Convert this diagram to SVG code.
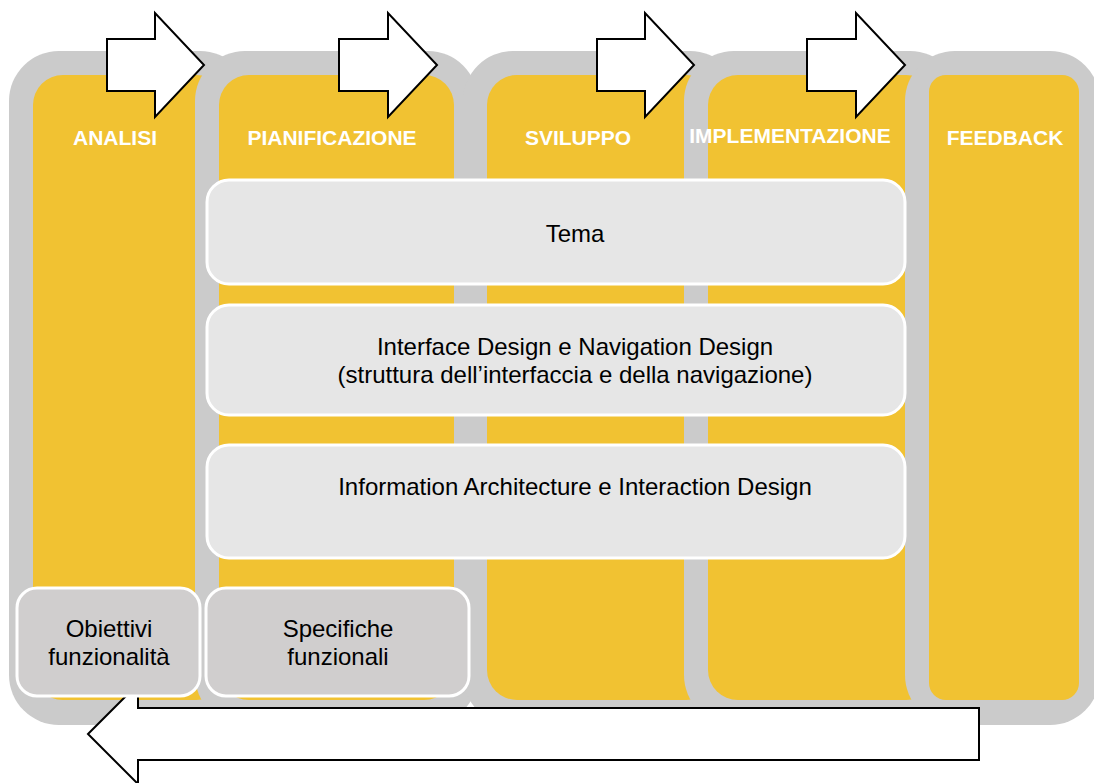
<svg xmlns="http://www.w3.org/2000/svg" width="1094" height="783" viewBox="0 0 1094 783">
  <style>
    .g { fill: #cbcbcb; }
    .y { fill: #f1c232; }
    .hd { font-family: "Liberation Sans", Arial, sans-serif; font-weight: bold; font-size: 21px; fill: #ffffff; text-anchor: middle; }
    .tx { font-family: "Liberation Sans", Arial, sans-serif; font-size: 24px; fill: #000000; text-anchor: middle; }
    .bx1 { fill: #e6e6e6; stroke: #ffffff; stroke-width: 3; }
    .bx2 { fill: #d0cece; stroke: #ffffff; stroke-width: 3; }
    .ar { fill: #ffffff; stroke: #000000; stroke-width: 2; stroke-linejoin: miter; }
  </style>
  <rect width="1094" height="783" fill="#ffffff"/>
  <g id="col-analisi">
    <rect class="g" x="9" y="51" width="241" height="674" rx="50"/>
    <rect class="y" x="33" y="75" width="193" height="625" rx="30"/>
  </g>
  <g id="col-pianificazione">
    <rect class="g" x="195" y="51" width="283" height="674" rx="50"/>
    <rect class="y" x="219" y="75" width="235" height="625" rx="30"/>
  </g>
  <g id="col-sviluppo">
    <rect class="g" x="463" y="51" width="277" height="674" rx="50"/>
    <rect class="y" x="487" y="75" width="229" height="625" rx="30"/>
  </g>
  <g id="col-implementazione">
    <rect class="g" x="684" y="51" width="276" height="674" rx="50"/>
    <rect class="y" x="708" y="75" width="228" height="625" rx="30"/>
  </g>
  <g id="col-feedback">
    <rect class="g" x="905" y="51" width="195" height="674" rx="50"/>
    <rect class="y" x="929" y="75" width="150" height="625" rx="17"/>
  </g>
  <g id="headers">
    <text class="hd" x="115" y="145">ANALISI</text>
    <text class="hd" x="332" y="145">PIANIFICAZIONE</text>
    <text class="hd" x="578" y="145">SVILUPPO</text>
    <text class="hd" x="790" y="143">IMPLEMENTAZIONE</text>
    <text class="hd" x="1005" y="145">FEEDBACK</text>
  </g>
  <g id="connectors">
    <polygon class="ar" points="107,39 155,39 155,13 204,65 155,117 155,91 107,91"/>
    <polygon class="ar" points="339,39 388,39 388,13 437,65 388,117 388,91 339,91"/>
    <polygon class="ar" points="597,39 645,39 645,13 694,65 645,117 645,91 597,91"/>
    <polygon class="ar" points="807,39 856,39 856,13 905,65 856,117 856,91 807,91"/>
    <polygon class="ar" points="88,734 138,684 138,708 979,708 979,760 138,760 138,784"/>
  </g>
  <g id="node-tema">
    <rect class="bx1" x="207" y="180" width="698" height="104" rx="22"/>
    <text class="tx" x="575" y="242">Tema</text>
  </g>
  <g id="node-interface">
    <rect class="bx1" x="207" y="305" width="698" height="110" rx="22"/>
    <text class="tx" x="575" y="355">Interface Design e Navigation Design</text>
    <text class="tx" x="575" y="383">(struttura dell’interfaccia e della navigazione)</text>
  </g>
  <g id="node-information">
    <rect class="bx1" x="207" y="445" width="698" height="113" rx="22"/>
    <text class="tx" x="575" y="495">Information Architecture e Interaction Design</text>
  </g>
  <g id="node-obiettivi">
    <rect class="bx2" x="17" y="588" width="183" height="108" rx="20"/>
    <text class="tx" x="109" y="637">Obiettivi</text>
    <text class="tx" x="109" y="665">funzionalità</text>
  </g>
  <g id="node-specifiche">
    <rect class="bx2" x="206" y="588" width="263" height="108" rx="20"/>
    <text class="tx" x="338" y="637">Specifiche</text>
    <text class="tx" x="338" y="665">funzionali</text>
  </g>
</svg>
